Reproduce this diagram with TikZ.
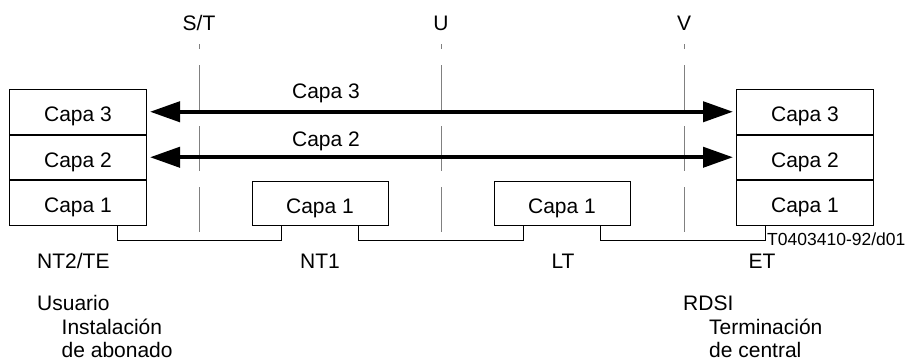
\documentclass[tikz,border=0pt]{standalone}
\usepackage{fontspec}
\setmainfont{Liberation Sans}
\usetikzlibrary{arrows.meta}

\tikzset{
  lbl/.style={font=\fontsize{21}{24}\selectfont, inner sep=0pt},
  layer/.style={draw, line width=1pt, minimum width=137pt, minimum height=44.5pt,
    inner sep=0pt, text height=20pt, text depth=0pt,
    font=\fontsize{21}{24}\selectfont},
  unitbox/.style={layer, minimum width=136pt, minimum height=44pt},
  refpoint/.style={draw=black!50, line width=1pt, dash pattern=on 45pt off 16pt, dash phase=40pt},
  peer/.style={line width=4pt, {Triangle[length=30pt,width=20pt]}-{Triangle[length=30pt,width=20pt]}, shorten <=3pt, shorten >=3pt},
  wire/.style={line width=0.9pt},
}

\begin{document}
\begin{tikzpicture}[x=1pt, y=-1pt]
  \useasboundingbox (0,0) rectangle (906,362);

  % reference points
  \foreach \px/\nm/\txt in {199/st/{S/T}, 441/u/U, 684/v/V}{
    \node[lbl, anchor=base] (\nm) at (\px,30) {\txt};
    \coordinate (\nm top) at (\px,44);
    \coordinate (\nm bot) at (\px,232);
    \draw[refpoint] (\nm top) -- (\nm bot);
  }

  % NT2/TE protocol stack
  \node[layer, anchor=north west] (a3) at (9,89) {Capa 3};
  \node[layer, anchor=north] (a2) at (a3.south) {Capa 2};
  \node[layer, anchor=north] (a1) at (a2.south) {Capa 1};

  % ET protocol stack
  \node[layer, anchor=north west] (e3) at (736,89) {Capa 3};
  \node[layer, anchor=north] (e2) at (e3.south) {Capa 2};
  \node[layer, anchor=north] (e1) at (e2.south) {Capa 1};

  % NT1 and LT
  \node[unitbox, anchor=south] (n1) at (320,225.5) {Capa 1};
  \node[unitbox, anchor=south] (lt) at (562,225.5) {Capa 1};

  % peer-to-peer layers 3 and 2
  \draw[peer] (a3.east) -- (e3.west);
  \draw[peer] (a2.east) -- (e2.west);
  \node[lbl, anchor=base] (c3) at (326,98.5) {Capa 3};
  \node[lbl, anchor=base] (c2) at (326,146.5) {Capa 2};

  % physical links
  \draw[wire] ([xshift=-30pt]a1.south east) -- ++(0,15) -| ([xshift=30pt]n1.south west);
  \draw[wire] ([xshift=-30pt]n1.south east) -- ++(0,15) -| ([xshift=30pt]lt.south west);
  \draw[wire] ([xshift=-30pt]lt.south east) -- ++(0,15) -| ([xshift=29pt]e1.south west);

  \node[font=\fontsize{17.5}{20}\selectfont, inner sep=0pt, anchor=base west] (ref) at (767,245) {T0403410-92/d01};

  % functional groupings
  \node[lbl, anchor=base west] (nt2) at (37,268.5) {NT2/TE};
  \node[lbl, anchor=base] (nt1) at (320,268.5) {NT1};
  \node[lbl, anchor=base] (ltl) at (563,268.5) {LT};
  \node[lbl, anchor=base] (etl) at (762,268.5) {ET};

  \node[lbl, anchor=base west] (us1) at (37,310.5) {Usuario};
  \node[lbl, anchor=base west] (us2) at (61.5,334.5) {Instalación};
  \node[lbl, anchor=base west] (us3) at (61.5,357.5) {de abonado};

  \node[lbl, anchor=base west] (rd1) at (683,310.5) {RDSI};
  \node[lbl, anchor=base west] (rd2) at (709,334.5) {Terminación};
  \node[lbl, anchor=base west] (rd3) at (709,357.5) {de central};
\end{tikzpicture}
\end{document}
